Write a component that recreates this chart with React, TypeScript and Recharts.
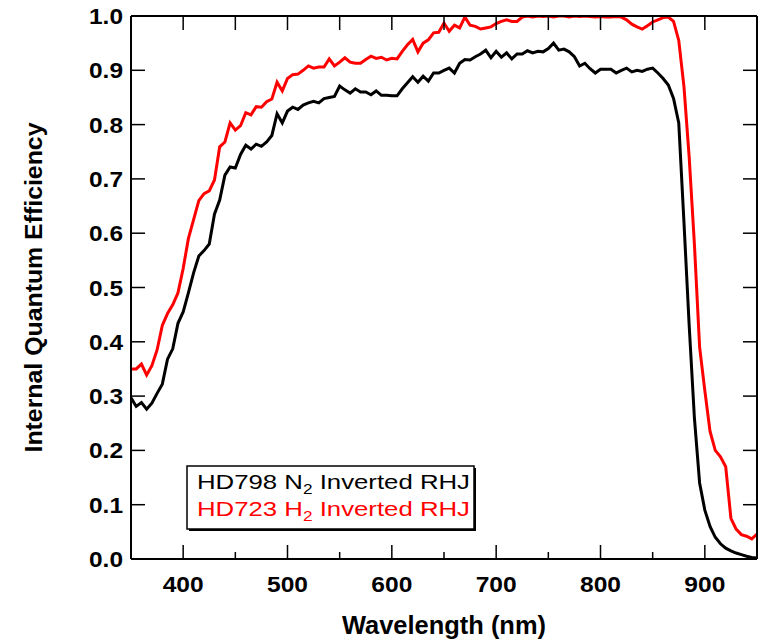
import React from "react";
import {
  LineChart,
  Line,
  XAxis,
  YAxis,
  Legend,
} from "recharts";

// wavelength grid (nm)
const WAVELENGTHS = [
  350, 355, 360, 365, 370, 375, 380, 385, 390, 395,
  400, 405, 410, 415, 420, 425, 430, 435, 440, 445,
  450, 455, 460, 465, 470, 475, 480, 485, 490, 495,
  500, 505, 510, 515, 520, 525, 530, 535, 540, 545,
  550, 555, 560, 565, 570, 575, 580, 585, 590, 595,
  600, 605, 610, 615, 620, 625, 630, 635, 640, 645,
  650, 655, 660, 665, 670, 675, 680, 685, 690, 695,
  700, 705, 710, 715, 720, 725, 730, 735, 740, 745,
  750, 755, 760, 765, 770, 775, 780, 785, 790, 795,
  800, 805, 810, 815, 820, 825, 830, 835, 840, 845,
  850, 855, 860, 865, 870, 875, 880, 885, 890, 895,
  900, 905, 910, 915, 920, 925, 930, 935, 940, 945,
  950,
];

// HD798 N2 Inverted RHJ (black)
const N2_IQE = [
  0.297, 0.281, 0.288, 0.276, 0.287, 0.305, 0.322, 0.368, 0.387, 0.434,
  0.455, 0.49, 0.527, 0.558, 0.568, 0.58, 0.635, 0.661, 0.707, 0.722,
  0.72, 0.745, 0.762, 0.755, 0.764, 0.76, 0.768, 0.78, 0.82, 0.803,
  0.825, 0.832, 0.828, 0.836, 0.84, 0.843, 0.84, 0.848, 0.85, 0.852,
  0.871, 0.864, 0.858, 0.866, 0.86, 0.86, 0.855, 0.862, 0.854, 0.854,
  0.853, 0.853, 0.866, 0.877, 0.888, 0.878, 0.889, 0.88, 0.895, 0.895,
  0.9, 0.904, 0.895, 0.913, 0.92, 0.919, 0.925, 0.93, 0.937, 0.923,
  0.935, 0.924, 0.932, 0.921, 0.93, 0.93, 0.936, 0.932, 0.935, 0.934,
  0.94, 0.95, 0.937, 0.939, 0.934, 0.925, 0.908, 0.913, 0.903, 0.895,
  0.902, 0.902, 0.902, 0.895, 0.9, 0.904, 0.897, 0.9, 0.898, 0.902,
  0.904, 0.895, 0.885, 0.873, 0.848, 0.803, 0.62, 0.43, 0.26, 0.14,
  0.09, 0.06, 0.04, 0.028, 0.02, 0.015, 0.011, 0.008, 0.005, 0.003,
  0.002,
];

// HD723 H2 Inverted RHJ (red)
const H2_IQE = [
  0.35, 0.35, 0.359, 0.339, 0.356, 0.385, 0.43, 0.452, 0.468, 0.49,
  0.535, 0.59, 0.625, 0.66, 0.673, 0.678, 0.698, 0.759, 0.768, 0.803,
  0.79, 0.798, 0.822, 0.818, 0.833, 0.832, 0.842, 0.847, 0.878, 0.862,
  0.885, 0.892, 0.893, 0.9, 0.908, 0.904, 0.906, 0.906, 0.921, 0.908,
  0.915, 0.923, 0.915, 0.913, 0.913, 0.92, 0.926, 0.922, 0.924, 0.919,
  0.922, 0.921, 0.935, 0.947, 0.957, 0.934, 0.95, 0.956, 0.969, 0.97,
  0.987, 0.972, 0.983, 0.978, 0.998, 0.983, 0.981, 0.976, 0.978, 0.98,
  0.986, 0.99, 0.993, 0.99, 0.99, 0.998, 1.0, 0.998, 1.0, 0.999,
  1.0, 0.998, 1.0, 1.0, 0.998, 1.0, 0.999, 1.0, 0.999, 0.998,
  0.999, 0.998, 0.998, 0.999, 0.998, 0.993, 0.985, 0.98, 0.976, 0.982,
  0.989, 0.993, 0.997, 0.998, 0.99, 0.955, 0.87, 0.74, 0.58, 0.39,
  0.31, 0.235, 0.2, 0.188, 0.17, 0.075, 0.055, 0.045, 0.042, 0.037,
  0.046,
];

const X_TICKS = [400, 450, 500, 550, 600, 650, 700, 750, 800, 850, 900];
const Y_TICKS = [0, 0.1, 0.2, 0.3, 0.4, 0.5, 0.6, 0.7, 0.8, 0.9, 1.0];

const data = WAVELENGTHS.map((w, i) => ({ w, n2: N2_IQE[i], h2: H2_IQE[i] }));

const FONT = "'Liberation Sans', Arial, Helvetica, sans-serif";
const W = 761;
const H = 641;
// plot box (px)
const LEFT = 131;
const RIGHT = 757;
const TOP = 16;
const BOTTOM = 559;
const AXIS_W = 60; // left axis width
const AXIS_H = 40; // bottom axis height

const BottomTick = ({ x, payload }: any) => {
  const major = payload.value % 100 === 0;
  return (
    <g>
      <line x1={x} x2={x} y1={BOTTOM} y2={BOTTOM - (major ? 14 : 7)} stroke="#000" strokeWidth={1.5} />
      {major && (
        <text
          x={x}
          y={592}
          textAnchor="middle"
          fontFamily={FONT}
          fontWeight="bold"
          fontSize={22}
          textLength={41}
          lengthAdjust="spacingAndGlyphs"
          fill="#000"
        >
          {payload.value}
        </text>
      )}
    </g>
  );
};

const TopTick = ({ x }: any) => (
  <line x1={x} x2={x} y1={TOP} y2={TOP + 14} stroke="#000" strokeWidth={1.5} />
);

const LeftTick = ({ y, payload }: any) => (
  <g>
    <line x1={LEFT} x2={LEFT + 14} y1={y} y2={y} stroke="#000" strokeWidth={1.5} />
    <text
      x={123}
      y={y + 8}
      textAnchor="end"
      fontFamily={FONT}
      fontWeight="bold"
      fontSize={22}
      textLength={34}
      lengthAdjust="spacingAndGlyphs"
      fill="#000"
    >
      {Number(payload.value).toFixed(1)}
    </text>
  </g>
);

const RightTick = ({ y }: any) => (
  <line x1={RIGHT} x2={RIGHT - 14} y1={y} y2={y} stroke="#000" strokeWidth={1.5} />
);

const XTitle = () => (
  <text
    x={(LEFT + RIGHT) / 2}
    y={634}
    textAnchor="middle"
    fontFamily={FONT}
    fontWeight="bold"
    fontSize={25}
    textLength={204}
    lengthAdjust="spacingAndGlyphs"
    fill="#000"
  >
    Wavelength (nm)
  </text>
);

const YTitle = () => (
  <text
    x={42}
    y={(TOP + BOTTOM) / 2}
    transform={`rotate(-90, 42, ${(TOP + BOTTOM) / 2})`}
    textAnchor="middle"
    fontFamily={FONT}
    fontWeight="bold"
    fontSize={24}
    textLength={330}
    lengthAdjust="spacingAndGlyphs"
    fill="#000"
  >
    Internal Quantum Efficiency
  </text>
);

const LegendBox = () => (
  <svg width={292} height={68} style={{ display: "block" }}>
    <rect x={3} y={3} width={287} height={63} fill="#000" />
    <rect x={1} y={1} width={287} height={63} fill="#fff" stroke="#000" strokeWidth={1.5} />
    <text x={11} y={24} fontFamily={FONT} fontSize={21} fill="#000" textLength={273} lengthAdjust="spacingAndGlyphs">
      HD798 N<tspan fontSize={14} dy={5}>2</tspan>
      <tspan dy={-5}> Inverted RHJ</tspan>
    </text>
    <text x={11} y={51} fontFamily={FONT} fontSize={21} fill="#ff0000" textLength={273} lengthAdjust="spacingAndGlyphs">
      HD723 H<tspan fontSize={14} dy={5}>2</tspan>
      <tspan dy={-5}> Inverted RHJ</tspan>
    </text>
  </svg>
);

export default function App() {
  return (
    <div style={{ position: "absolute", left: 0, top: 0, width: W, height: H, background: "#fff" }}>
      <LineChart
        width={W}
        height={H}
        data={data}
        margin={{
          top: TOP - 1,
          right: W - RIGHT - 1,
          bottom: H - BOTTOM - AXIS_H,
          left: LEFT - AXIS_W,
        }}
      >
        <XAxis
          dataKey="w"
          type="number"
          domain={[350, 950]}
          allowDataOverflow
          ticks={X_TICKS}
          interval={0}
          height={AXIS_H}
          tickSize={0}
          tickMargin={0}
          tickLine={false}
          tick={<BottomTick />}
          axisLine={{ stroke: "#000", strokeWidth: 2 }}
          label={<XTitle />}
        />
        <XAxis
          xAxisId="top"
          orientation="top"
          dataKey="w"
          type="number"
          domain={[350, 950]}
          allowDataOverflow
          ticks={X_TICKS}
          interval={0}
          height={1}
          tickSize={0}
          tickMargin={0}
          tickLine={false}
          tick={<TopTick />}
          axisLine={{ stroke: "#000", strokeWidth: 2 }}
        />
        <YAxis
          type="number"
          domain={[0, 1]}
          allowDataOverflow
          ticks={Y_TICKS}
          interval={0}
          width={AXIS_W}
          tickSize={0}
          tickMargin={0}
          tickLine={false}
          tick={<LeftTick />}
          axisLine={{ stroke: "#000", strokeWidth: 2 }}
          label={<YTitle />}
        />
        <YAxis
          yAxisId="r"
          orientation="right"
          type="number"
          domain={[0, 1]}
          allowDataOverflow
          ticks={Y_TICKS}
          interval={0}
          width={1}
          tickSize={0}
          tickMargin={0}
          tickLine={false}
          tick={<RightTick />}
          axisLine={{ stroke: "#000", strokeWidth: 2 }}
        />
        <Legend
          layout="horizontal"
          verticalAlign="middle"
          align="center"
          content={() => <LegendBox />}
          wrapperStyle={{ position: "absolute", left: 186, top: 465, width: 292, height: 68 }}
        />
        <Line
          type="linear"
          dataKey="n2"
          stroke="#000"
          strokeWidth={3}
          dot={false}
          isAnimationActive={false}
        />
        <Line
          type="linear"
          dataKey="h2"
          stroke="#ff0000"
          strokeWidth={3}
          dot={false}
          isAnimationActive={false}
        />
      </LineChart>
    </div>
  );
}
